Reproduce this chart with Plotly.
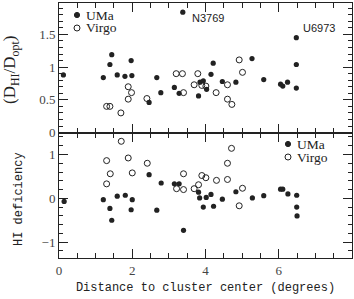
import plotly.graph_objects as go
from plotly.subplots import make_subplots

# ---- data: top panel (D_HI / D_opt) ----
uma_top_x = [0.12, 1.21, 1.39, 1.44, 1.59, 1.80, 1.97, 1.99, 2.46, 2.67, 2.78, 3.15, 3.28, 3.38,
             3.81, 3.85, 3.94, 4.03, 4.15, 4.21, 4.46, 4.83, 5.27, 5.59, 6.05, 6.11, 6.24,
             6.48, 6.48, 6.48]
uma_top_y = [0.88, 0.84, 1.04, 1.19, 0.88, 0.86, 1.10, 0.87, 0.46, 0.84, 0.61, 0.69, 0.60, 1.84,
             0.56, 0.77, 0.79, 0.66, 0.89, 1.06, 0.78, 0.77, 1.13, 0.81, 0.74, 0.71, 0.77,
             1.45, 1.04, 0.68]
virgo_top_x = [1.30, 1.39, 1.69, 1.89, 1.98, 1.89, 2.40, 3.20, 3.37, 3.40, 3.69, 3.79, 3.90, 4.01,
               4.29, 4.60, 4.60, 4.72, 4.92, 5.01]
virgo_top_y = [0.40, 0.40, 0.30, 0.70, 0.61, 0.51, 0.52, 0.90, 0.90, 0.61, 0.73, 0.90, 0.72, 0.71,
               0.61, 0.73, 0.51, 0.43, 1.11, 0.92]

# ---- data: bottom panel (HI deficiency) ----
uma_bot_x = [0.14, 1.21, 1.39, 1.44, 1.59, 1.81, 1.97, 2.00, 2.46, 2.67, 2.79, 3.15, 3.28, 3.40,
             3.81, 3.84, 3.94, 4.02, 4.15, 4.22, 4.46, 4.83, 5.28, 5.59, 6.05, 6.11, 6.25,
             6.49, 6.49, 6.50]
uma_bot_y = [-0.07, -0.03, -0.23, -0.50, 0.05, 0.07, -0.26, -0.03, 0.54, -0.27, 0.35, 0.33, 0.33, -0.73,
             0.14, 0.01, -0.20, 0.02, 0.09, -0.18, -0.02, 0.15, 0.01, 0.06, 0.21, 0.21, 0.10,
             0.07, -0.20, -0.40]
virgo_bot_x = [1.30, 1.40, 1.30, 1.70, 1.89, 2.00, 2.41, 3.21, 3.40, 3.40, 3.69, 3.81, 3.90, 4.01,
               4.30, 4.60, 4.60, 4.71, 4.92, 5.01]
virgo_bot_y = [0.86, 0.56, 0.33, 1.30, 0.92, 0.58, 0.80, 0.22, 0.20, 0.56, 0.22, 0.31, 0.52, 0.47,
               0.41, 0.43, 0.80, 1.14, -0.17, 0.23]

x_ticks = [0, 2, 4, 6]
top_ticks = [0, 0.5, 1, 1.5]
top_ticktext = ["0", "0.5", "1", "1.5"]
bot_ticks = [-1, 0, 1]
bot_ticktext = ["\u22121", "0", "1"]
labels = [("N3769", 3.58, 1.75), ("U6973", 6.60, 1.60)]
series_names = ["UMa", "Virgo"]

INK = "#222222"
SERIF = "Liberation Serif"
MONO = "Liberation Mono"

W, H = 354, 299
ML, MR, MT, MB = 59, 2, 3, 41
PW, PH = W - ML - MR, H - MT - MB


def px(xp):
    return (xp - ML) / PW


def py(yp):
    return (H - MB - yp) / PH


fig = make_subplots(rows=2, cols=1, shared_xaxes=True, vertical_spacing=0,
                    row_heights=[0.508, 0.492])

filled = dict(symbol="circle", size=5.2, color=INK)
opened = dict(symbol="circle-open", size=6, color=INK, line=dict(width=1, color=INK))

fig.add_trace(go.Scatter(x=uma_top_x, y=uma_top_y, mode="markers", name="UMa",
                         marker=filled, showlegend=False), row=1, col=1)
fig.add_trace(go.Scatter(x=virgo_top_x, y=virgo_top_y, mode="markers", name="Virgo",
                         marker=opened, showlegend=False), row=1, col=1)
fig.add_trace(go.Scatter(x=uma_bot_x, y=uma_bot_y, mode="markers", name="UMa",
                         marker=filled, showlegend=False), row=2, col=1)
fig.add_trace(go.Scatter(x=virgo_bot_x, y=virgo_bot_y, mode="markers", name="Virgo",
                         marker=opened, showlegend=False), row=2, col=1)

for txt, lx, ly in labels:
    fig.add_annotation(x=lx, y=ly, xref="x", yref="y", text=txt, showarrow=False,
                       xanchor="left", yanchor="middle",
                       font=dict(family="Liberation Sans", size=11, color=INK))

# legends (symbol + label), one per panel
for (mx, my0) in [(77, 15), (288, 144)]:
    for i, nm in enumerate(series_names):
        cy = my0 + 13 * i
        r = 2.6 if i == 0 else 3.0
        fig.add_shape(type="circle", xref="paper", yref="paper",
                      x0=px(mx - r), x1=px(mx + r), y0=py(cy + r), y1=py(cy - r),
                      fillcolor=INK if i == 0 else "white",
                      line=dict(color=INK, width=1))
        fig.add_annotation(xref="paper", yref="paper", x=px(mx + 7), y=py(cy),
                           text=nm, showarrow=False, xanchor="left", yanchor="middle",
                           font=dict(family=SERIF, size=13.5, color=INK))

axis_common = dict(showline=True, linecolor=INK, linewidth=1, mirror="allticks",
                   ticks="inside", tickcolor=INK, tickwidth=1, showgrid=False,
                   zeroline=False, tickfont=dict(family=SERIF, size=13, color="#444444"))

fig.update_xaxes(range=[0, 8], tickmode="array", tickvals=x_ticks, ticklen=9,
                 minor=dict(ticks="inside", dtick=0.5, tick0=0, ticklen=5, tickcolor=INK,
                            showgrid=False),
                 **axis_common)
fig.update_xaxes(showticklabels=False, row=1, col=1)
fig.update_xaxes(title=dict(text="Distance to cluster center (degrees)",
                            font=dict(family=MONO, size=12, color=INK), standoff=6),
                 row=2, col=1)

fig.update_yaxes(range=[0, 1.98], tickmode="array", tickvals=top_ticks, ticktext=top_ticktext,
                 ticklen=9, minor=dict(ticks="inside", dtick=0.1, tick0=0, ticklen=4,
                                       tickcolor=INK, showgrid=False),
                 row=1, col=1, **axis_common)
fig.update_yaxes(range=[-1.36, 1.5], tickmode="array", tickvals=bot_ticks, ticktext=bot_ticktext,
                 ticklen=9, minor=dict(ticks="inside", dtick=0.2, tick0=0, ticklen=4,
                                       tickcolor=INK, showgrid=False),
                 row=2, col=1, **axis_common)

fig.add_annotation(xref="paper", yref="paper", x=px(11), y=py(70), textangle=-90,
                   text="(D<sub>HI</sub>/D<sub>opt</sub>)", showarrow=False,
                   xanchor="center", yanchor="middle",
                   font=dict(family=SERIF, size=17, color=INK))
fig.add_annotation(xref="paper", yref="paper", x=px(19), y=py(199), textangle=-90,
                   text="HI deficiency", showarrow=False,
                   xanchor="center", yanchor="middle",
                   font=dict(family=MONO, size=12, color=INK))

fig.update_layout(
    width=W, height=H,
    margin=dict(l=ML, r=MR, t=MT, b=MB),
    paper_bgcolor="white", plot_bgcolor="white",
    showlegend=False,
)

fig.write_html("out.html", config={"displayModeBar": False},
               post_script="document.body.style.margin='0px';document.body.style.overflow='hidden';")
